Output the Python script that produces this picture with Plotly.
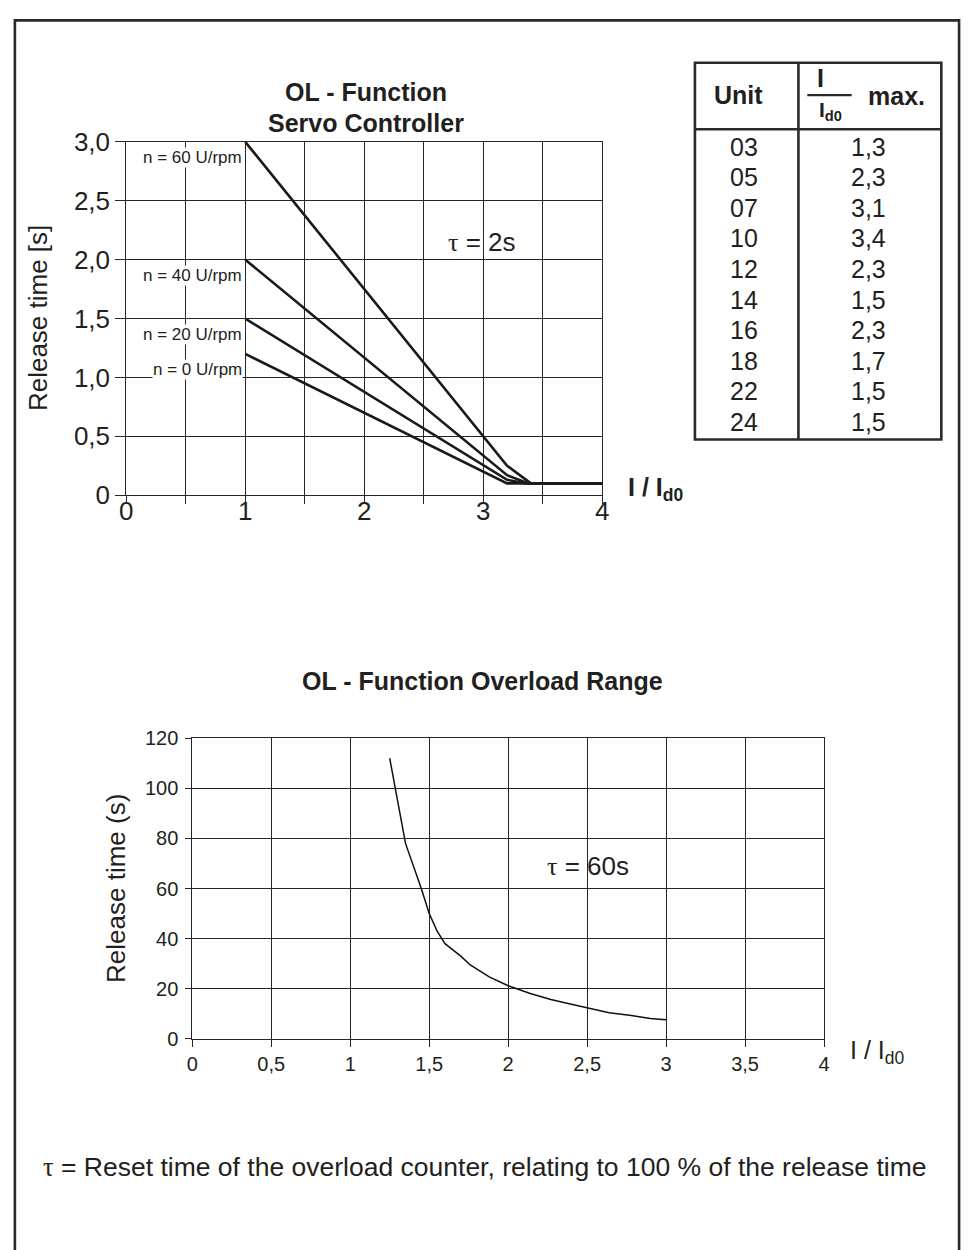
import plotly.graph_objects as go

W, H = 971, 1250

# ---------------- data: OL - Function Servo Controller (tau = 2 s) ----------------
speed_labels = ["n = 60 U/rpm", "n = 40 U/rpm", "n = 20 U/rpm", "n = 0 U/rpm"]
n60_x = [1.0, 3.2, 3.4, 4.0]
n60_y = [3.0, 0.25, 0.1, 0.1]
n40_x = [1.0, 3.2, 3.38, 4.0]
n40_y = [2.0, 0.17, 0.1, 0.1]
n20_x = [1.0, 3.2, 3.36, 4.0]
n20_y = [1.5, 0.13, 0.1, 0.1]
n0_x = [1.0, 3.2, 4.0]
n0_y = [1.2, 0.1, 0.1]

top_xtick_vals = [0, 1, 2, 3, 4]
top_xtick_text = ["0", "1", "2", "3", "4"]
top_xminor_vals = [0.5, 1.5, 2.5, 3.5]
top_ytick_vals = [0, 0.5, 1.0, 1.5, 2.0, 2.5, 3.0]
top_ytick_text = ["0", "0,5", "1,0", "1,5", "2,0", "2,5", "3,0"]

# ---------------- data: OL - Function Overload Range (tau = 60 s) ----------------
ovl_x = [1.25, 1.35, 1.45, 1.5, 1.55, 1.6, 1.7, 1.76, 1.88, 2.0, 2.14, 2.27, 2.4, 2.5, 2.64, 2.78, 2.9, 3.0]
ovl_y = [112, 78, 60, 50, 43, 38, 33, 29.5, 24.7, 21.2, 18.1, 15.7, 13.8, 12.3, 10.4, 9.3, 8.1, 7.6]

bot_xtick_vals = [0, 0.5, 1, 1.5, 2, 2.5, 3, 3.5, 4]
bot_xtick_text = ["0", "0,5", "1", "1,5", "2", "2,5", "3", "3,5", "4"]
bot_ytick_vals = [0, 20, 40, 60, 80, 100, 120]
bot_ytick_text = ["0", "20", "40", "60", "80", "100", "120"]

# ---------------- data: table ----------------
units = ["03", "05", "07", "10", "12", "14", "16", "18", "22", "24"]
ratio_max = ["1,3", "2,3", "3,1", "3,4", "2,3", "1,5", "2,3", "1,7", "1,5", "1,5"]

FONT = "Liberation Sans, Arial, Helvetica, sans-serif"
TXT = "#231f20"
GRID = "#262626"


def px(x):
    """page pixel x -> paper fraction"""
    return x / W


def py(y):
    """page pixel y -> paper fraction"""
    return 1 - y / H


TAU = "<span style=\"font-family:'Liberation Serif', serif\">τ</span>"

fig = go.Figure()

# top chart curves
for xs, ys in [(n60_x, n60_y), (n40_x, n40_y), (n20_x, n20_y), (n0_x, n0_y)]:
    fig.add_trace(go.Scatter(x=xs, y=ys, mode="lines", xaxis="x", yaxis="y",
                             line=dict(color="#1a1a1a", width=2.6), hoverinfo="skip"))

# bottom chart curve
fig.add_trace(go.Scatter(x=ovl_x, y=ovl_y, mode="lines", xaxis="x2", yaxis="y2",
                         line=dict(color="#111", width=1.5), hoverinfo="skip"))

common_axis = dict(showgrid=True, gridcolor=GRID, gridwidth=1, showline=True,
                   linecolor=GRID, linewidth=1, mirror=True, ticks="outside",
                   tickcolor=GRID, zeroline=False, fixedrange=True)

annotations = []

# curve labels (top chart)
for lab, ys in zip(speed_labels, [n60_y, n40_y, n20_y, n0_y]):
    annotations.append(dict(x=1.0, y=ys[0], xref="x", yref="y", text=lab, showarrow=False,
                            xanchor="right", yanchor="middle", xshift=-2, yshift=-16,
                            bgcolor="white", borderpad=0,
                            font=dict(family=FONT, size=17, color=TXT)))


def note(x, y, text, size=26, anchor="center", angle=0):
    return dict(x=px(x), y=py(y), xref="paper", yref="paper", text=text, textangle=angle,
                showarrow=False, xanchor=anchor, yanchor="middle",
                font=dict(family=FONT, size=size, color=TXT))


annotations += [
    note(364, 79, "<b>OL - Function</b>", 25),
    note(364, 111, "<b>Servo Controller</b>", 25),
    note(482, 682, "<b>OL - Function Overload Range</b>", 25),
    note(31, 311, "Release time [s]", 26, angle=-90),
    note(110, 895, "Release time (s)", 26, angle=-90),
    note(628, 486, "<b>I / I<sub>d0</sub></b>", 25, anchor="left"),
    note(853, 1062, "I / I<sub>d0</sub>", 25, anchor="left"),
    note(482, 233, TAU + " = 2s", 26),
    note(590, 872, TAU + " = 60s", 26),
    note(484, 1180, TAU + " = Reset time of the overload counter, relating to 100 % of the release time", 26.5),
]

# table
T_L, T_R, T_T, T_B = 698, 948, 49, 435
T_HDR, T_DIV = 117, 803
COL1, COL2 = 748, 874
ROW0, ROWSTEP = 135, 31.3

annotations += [
    note(742, 82, "<b>Unit</b>", 25),
    note(825, 65, "<b>I</b>", 25),
    note(822, 98, "<b>I<sub>d0</sub></b>", 21, anchor="left"),
    note(903, 83, "<b>max.</b>", 25),
]
for i, (u, r) in enumerate(zip(units, ratio_max)):
    yy = ROW0 + i * ROWSTEP
    annotations.append(note(COL1, yy, u, 25))
    annotations.append(note(COL2, yy, r, 25))

LINE = "#2a2a2a"
shapes = [
    # outer frame (runs past the bottom of the page)
    dict(type="rect", xref="paper", yref="paper", x0=px(8), x1=px(966), y0=py(1300), y1=py(5.5),
         line=dict(color=LINE, width=2.6), fillcolor="rgba(0,0,0,0)", layer="above"),
    # table
    dict(type="rect", xref="paper", yref="paper", x0=px(T_L), x1=px(T_R), y0=py(T_B), y1=py(T_T),
         line=dict(color=LINE, width=2.6), fillcolor="rgba(0,0,0,0)"),
    dict(type="line", xref="paper", yref="paper", x0=px(T_L), x1=px(T_R), y0=py(T_HDR), y1=py(T_HDR),
         line=dict(color=LINE, width=2.6)),
    dict(type="line", xref="paper", yref="paper", x0=px(T_DIV), x1=px(T_DIV), y0=py(T_B), y1=py(T_T),
         line=dict(color=LINE, width=2.6)),
    # fraction bar in the header
    dict(type="line", xref="paper", yref="paper", x0=px(812), x1=px(857), y0=py(82), y1=py(82),
         line=dict(color=LINE, width=2.2)),
]

fig.update_layout(
    width=W, height=H,
    margin=dict(l=0, r=0, t=0, b=0),
    paper_bgcolor="white", plot_bgcolor="white",
    showlegend=False,
    font=dict(family=FONT, color=TXT),
    xaxis=dict(domain=[px(121), px(604)], range=[0, 4], anchor="y",
               tickmode="array", tickvals=top_xtick_vals, ticktext=top_xtick_text, ticklen=8,
               ticklabelstandoff=-15,
               minor=dict(tickmode="array", tickvals=top_xminor_vals, ticks="outside",
                          ticklen=8, tickcolor=GRID, showgrid=True, gridcolor=GRID, gridwidth=1),
               tickfont=dict(family=FONT, size=26, color=TXT), **common_axis),
    yaxis=dict(domain=[py(492), py(130)], range=[0, 3], anchor="x",
               tickvals=top_ytick_vals, ticktext=top_ytick_text, ticklen=10,
               tickfont=dict(family=FONT, size=26, color=TXT), **common_axis),
    xaxis2=dict(domain=[px(188), px(829)], range=[0, 4], anchor="y2",
                tickvals=bot_xtick_vals, ticktext=bot_xtick_text, ticklen=7,
                tickfont=dict(family=FONT, size=20, color=TXT), **common_axis),
    yaxis2=dict(domain=[py(1049), py(741)], range=[0, 120], anchor="x2",
                tickvals=bot_ytick_vals, ticktext=bot_ytick_text, ticklen=6,
                ticklabelstandoff=3,
                tickfont=dict(family=FONT, size=20, color=TXT), **common_axis),
    annotations=annotations,
    shapes=shapes,
)

fig.write_html("out.html", config={"displayModeBar": False},
               post_script="document.body.style.margin='0px';")
